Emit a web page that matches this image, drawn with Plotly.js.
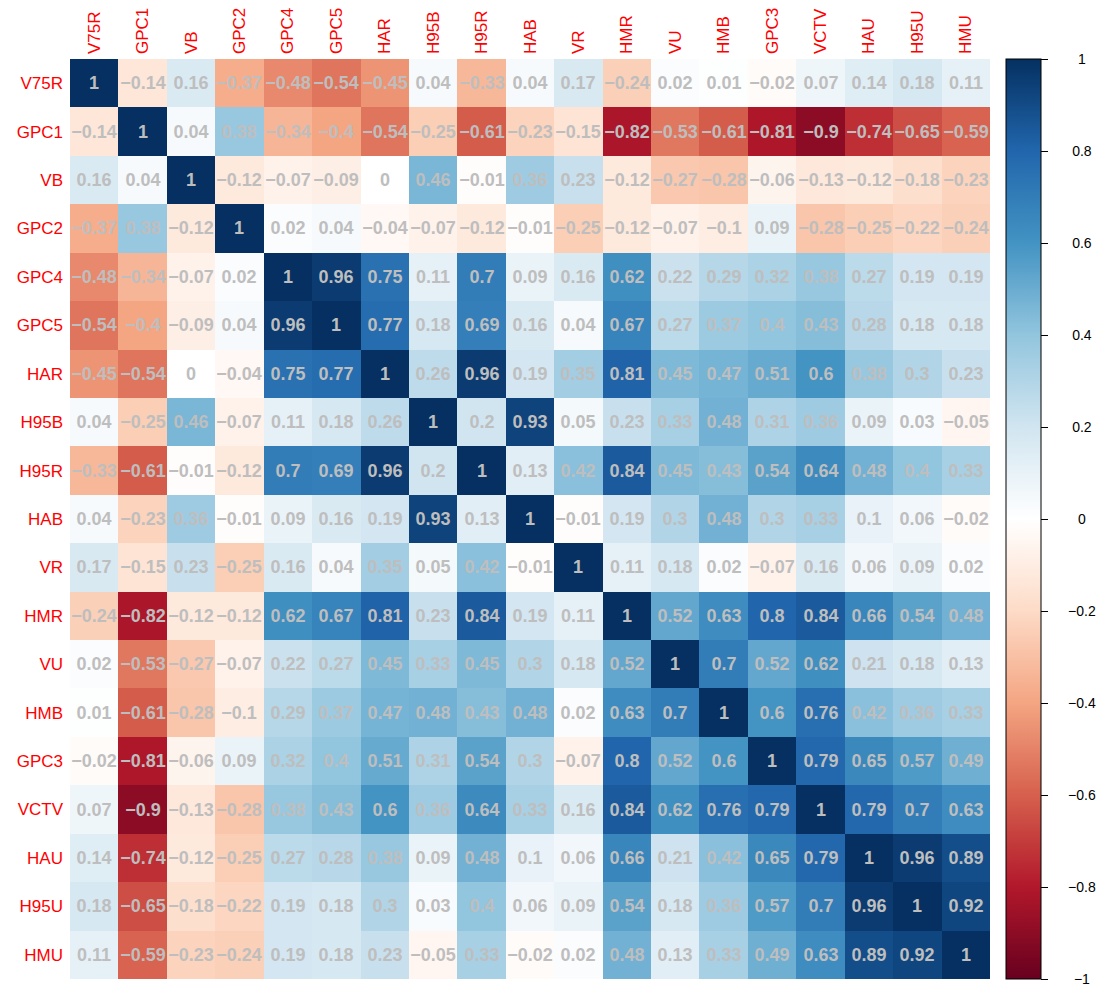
<!DOCTYPE html>
<html>
<head>
<meta charset="utf-8">
<script src="https://cdn.plot.ly/plotly-3.0.1.min.js"></script>
<style>
  html, body { margin: 0; padding: 0; background: #ffffff; }
  #chart { width: 1103px; height: 987px; }
</style>
</head>
<body>
<div id="chart"></div>
<script>
// Variable names, in the order used for both rows and columns
const variables = ['V75R', 'GPC1', 'VB', 'GPC2', 'GPC4', 'GPC5', 'HAR', 'H95B', 'H95R', 'HAB',
                   'VR', 'HMR', 'VU', 'HMB', 'GPC3', 'VCTV', 'HAU', 'H95U', 'HMU'];

// Correlation coefficients, one row per variable
const rowV75R = [1, -0.14, 0.16, -0.37, -0.48, -0.54, -0.45, 0.04, -0.33, 0.04, 0.17, -0.24, 0.02, 0.01, -0.02, 0.07, 0.14, 0.18, 0.11];
const rowGPC1 = [-0.14, 1, 0.04, 0.38, -0.34, -0.4, -0.54, -0.25, -0.61, -0.23, -0.15, -0.82, -0.53, -0.61, -0.81, -0.9, -0.74, -0.65, -0.59];
const rowVB   = [0.16, 0.04, 1, -0.12, -0.07, -0.09, 0, 0.46, -0.01, 0.36, 0.23, -0.12, -0.27, -0.28, -0.06, -0.13, -0.12, -0.18, -0.23];
const rowGPC2 = [-0.37, 0.38, -0.12, 1, 0.02, 0.04, -0.04, -0.07, -0.12, -0.01, -0.25, -0.12, -0.07, -0.1, 0.09, -0.28, -0.25, -0.22, -0.24];
const rowGPC4 = [-0.48, -0.34, -0.07, 0.02, 1, 0.96, 0.75, 0.11, 0.7, 0.09, 0.16, 0.62, 0.22, 0.29, 0.32, 0.38, 0.27, 0.19, 0.19];
const rowGPC5 = [-0.54, -0.4, -0.09, 0.04, 0.96, 1, 0.77, 0.18, 0.69, 0.16, 0.04, 0.67, 0.27, 0.37, 0.4, 0.43, 0.28, 0.18, 0.18];
const rowHAR  = [-0.45, -0.54, 0, -0.04, 0.75, 0.77, 1, 0.26, 0.96, 0.19, 0.35, 0.81, 0.45, 0.47, 0.51, 0.6, 0.38, 0.3, 0.23];
const rowH95B = [0.04, -0.25, 0.46, -0.07, 0.11, 0.18, 0.26, 1, 0.2, 0.93, 0.05, 0.23, 0.33, 0.48, 0.31, 0.36, 0.09, 0.03, -0.05];
const rowH95R = [-0.33, -0.61, -0.01, -0.12, 0.7, 0.69, 0.96, 0.2, 1, 0.13, 0.42, 0.84, 0.45, 0.43, 0.54, 0.64, 0.48, 0.4, 0.33];
const rowHAB  = [0.04, -0.23, 0.36, -0.01, 0.09, 0.16, 0.19, 0.93, 0.13, 1, -0.01, 0.19, 0.3, 0.48, 0.3, 0.33, 0.1, 0.06, -0.02];
const rowVR   = [0.17, -0.15, 0.23, -0.25, 0.16, 0.04, 0.35, 0.05, 0.42, -0.01, 1, 0.11, 0.18, 0.02, -0.07, 0.16, 0.06, 0.09, 0.02];
const rowHMR  = [-0.24, -0.82, -0.12, -0.12, 0.62, 0.67, 0.81, 0.23, 0.84, 0.19, 0.11, 1, 0.52, 0.63, 0.8, 0.84, 0.66, 0.54, 0.48];
const rowVU   = [0.02, -0.53, -0.27, -0.07, 0.22, 0.27, 0.45, 0.33, 0.45, 0.3, 0.18, 0.52, 1, 0.7, 0.52, 0.62, 0.21, 0.18, 0.13];
const rowHMB  = [0.01, -0.61, -0.28, -0.1, 0.29, 0.37, 0.47, 0.48, 0.43, 0.48, 0.02, 0.63, 0.7, 1, 0.6, 0.76, 0.42, 0.36, 0.33];
const rowGPC3 = [-0.02, -0.81, -0.06, 0.09, 0.32, 0.4, 0.51, 0.31, 0.54, 0.3, -0.07, 0.8, 0.52, 0.6, 1, 0.79, 0.65, 0.57, 0.49];
const rowVCTV = [0.07, -0.9, -0.13, -0.28, 0.38, 0.43, 0.6, 0.36, 0.64, 0.33, 0.16, 0.84, 0.62, 0.76, 0.79, 1, 0.79, 0.7, 0.63];
const rowHAU  = [0.14, -0.74, -0.12, -0.25, 0.27, 0.28, 0.38, 0.09, 0.48, 0.1, 0.06, 0.66, 0.21, 0.42, 0.65, 0.79, 1, 0.96, 0.89];
const rowH95U = [0.18, -0.65, -0.18, -0.22, 0.19, 0.18, 0.3, 0.03, 0.4, 0.06, 0.09, 0.54, 0.18, 0.36, 0.57, 0.7, 0.96, 1, 0.92];
const rowHMU  = [0.11, -0.59, -0.23, -0.24, 0.19, 0.18, 0.23, -0.05, 0.33, -0.02, 0.02, 0.48, 0.13, 0.33, 0.49, 0.63, 0.89, 0.92, 1];

// Colour-bar tick values and labels
const legendTicks = [-1, -0.8, -0.6, -0.4, -0.2, 0, 0.2, 0.4, 0.6, 0.8, 1];
const legendLabels = ['\u22121', '\u22120.8', '\u22120.6', '\u22120.4', '\u22120.2', '0', '0.2', '0.4', '0.6', '0.8', '1'];

const matrix = [rowV75R, rowGPC1, rowVB, rowGPC2, rowGPC4, rowGPC5, rowHAR, rowH95B, rowH95R, rowHAB,
                rowVR, rowHMR, rowVU, rowHMB, rowGPC3, rowVCTV, rowHAU, rowH95U, rowHMU];

// Cell labels: the coefficient itself, with a true minus sign
const cellText = matrix.map(row => row.map(v => String(v).replace('-', '\u2212')));

// Red-white-blue diverging palette
const rdbu = [
  [0.0, '#67001F'], [0.1, '#B2182B'], [0.2, '#D6604D'], [0.3, '#F4A582'], [0.4, '#FDDBC7'],
  [0.5, '#FFFFFF'],
  [0.6, '#D1E5F0'], [0.7, '#92C5DE'], [0.8, '#4393C3'], [0.9, '#2166AC'], [1.0, '#053061']
];

const FONT = 'Liberation Sans, Arial, Helvetica, sans-serif';

const trace = {
  type: 'heatmap',
  x: variables,
  y: variables,
  z: matrix,
  zmin: -1,
  zmax: 1,
  colorscale: rdbu,
  text: cellText,
  texttemplate: '%{text}',
  textfont: { family: FONT, size: 18, color: '#BEBEBE', weight: 'bold' },
  hoverinfo: 'x+y+z',
  colorbar: {
    x: 1.0174,
    xanchor: 'left',
    xpad: 0,
    y: 0.5,
    yanchor: 'middle',
    ypad: 0,
    len: 1,
    lenmode: 'fraction',
    thickness: 35,
    thicknessmode: 'pixels',
    outlinewidth: 1,
    outlinecolor: '#000000',
    ticks: 'outside',
    ticklen: 7,
    tickwidth: 1,
    tickcolor: '#000000',
    tickvals: legendTicks,
    ticktext: legendLabels,
    tickfont: { family: FONT, size: 14, color: '#000000' }
  }
};

const layout = {
  width: 1103,
  height: 987,
  margin: { l: 70, r: 113, t: 59, b: 8, pad: 0 },
  paper_bgcolor: '#ffffff',
  plot_bgcolor: '#ffffff',
  xaxis: {
    side: 'top',
    type: 'category',
    tickangle: -90,
    ticks: '',
    showgrid: false,
    zeroline: false,
    showline: false,
    ticklabelstandoff: 4,
    tickfont: { family: FONT, size: 17, color: '#FF0000' }
  },
  yaxis: {
    type: 'category',
    autorange: 'reversed',
    ticks: '',
    showgrid: false,
    zeroline: false,
    showline: false,
    ticklabelstandoff: 6,
    tickfont: { family: FONT, size: 17, color: '#FF0000' }
  }
};

// Centre the colour-bar labels in a column to the right of the ticks
function centreLegendLabels(gd) {
  const labelCentre = 1082;
  const labels = gd.querySelectorAll('.colorbar .cbaxis text');
  const origin = gd.getBoundingClientRect().left;
  labels.forEach(el => {
    const box = el.getBoundingClientRect();
    const mid = box.left - origin + box.width / 2;
    const x0 = parseFloat(el.getAttribute('x')) || 0;
    el.setAttribute('x', x0 + (labelCentre - mid));
  });
}

Plotly.newPlot('chart', [trace], layout, { displayModeBar: false, responsive: false })
  .then(gd => centreLegendLabels(gd));
</script>
</body>
</html>
